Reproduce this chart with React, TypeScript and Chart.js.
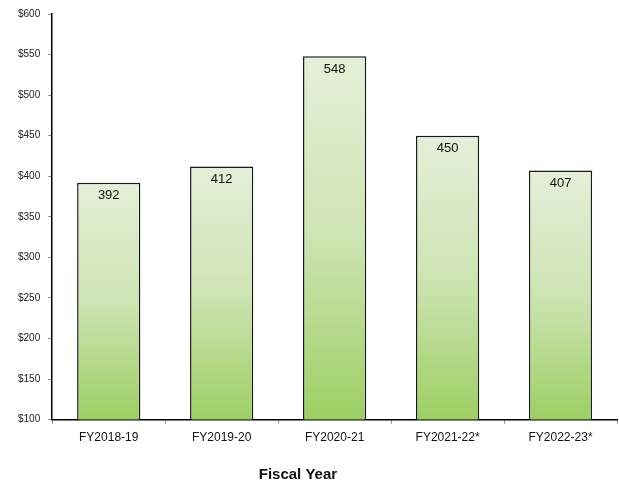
import React, { useEffect, useRef } from "react";
import { Chart, registerables } from "chart.js";

Chart.register(...registerables);

const categories = ["FY2018-19", "FY2019-20", "FY2020-21", "FY2021-22*", "FY2022-23*"];
const values = [392, 412, 548, 450, 407];
const yTicks = [100, 150, 200, 250, 300, 350, 400, 450, 500, 550, 600];
const xTitle = "Fiscal Year";

const FONT = "'Liberation Sans', Arial, sans-serif";

const valueLabelPlugin = {
  id: "valueLabels",
  afterDatasetsDraw(chart: any) {
    const { ctx } = chart;
    const meta = chart.getDatasetMeta(0);
    ctx.save();
    ctx.font = `13px ${FONT}`;
    ctx.fillStyle = "#111";
    ctx.textAlign = "center";
    ctx.textBaseline = "middle";
    meta.data.forEach((bar: any, i: number) => {
      ctx.fillText(String(values[i]), bar.x, bar.y + 13);
    });
    ctx.restore();
  },
};

const axisTitlePlugin = {
  id: "axisTitle",
  afterDraw(chart: any) {
    const { ctx, chartArea } = chart;
    ctx.save();
    ctx.font = `bold 15px ${FONT}`;
    ctx.fillStyle = "#111";
    ctx.textAlign = "center";
    ctx.textBaseline = "middle";
    const cx = chartArea.left + (chartArea.right - chartArea.left) * 0.435;
    ctx.fillText(xTitle, cx, chart.height - 10);
    ctx.restore();
  },
};

export default function App() {
  const ref = useRef<HTMLCanvasElement>(null);
  useEffect(() => {
    if (!ref.current) return;
    const chart = new Chart(ref.current, {
      type: "bar",
      data: {
        labels: categories,
        datasets: [
          {
            data: values,
            backgroundColor: (c: any) => {
              const ch = c.chart;
              const y = ch.scales?.y;
              if (!y || c.dataIndex === undefined) return "#c8e2a8";
              const top = y.getPixelForValue(values[c.dataIndex]);
              const bottom = y.getPixelForValue(100);
              if (!isFinite(top) || !isFinite(bottom) || top === bottom) return "#c8e2a8";
              const g = ch.ctx.createLinearGradient(0, top, 0, bottom);
              g.addColorStop(0, "#e5efd9");
              g.addColorStop(0.5, "#cde4b3");
              g.addColorStop(1, "#9dcf64");
              return g;
            },
            borderColor: "#1a1a1a",
            borderWidth: 1.5,
            borderSkipped: false,
            barPercentage: 0.56,
            categoryPercentage: 1,
          },
        ],
      },
      options: {
        animation: false,
        responsive: false,
        maintainAspectRatio: false,
        layout: { padding: { left: 10, right: 2, top: 10, bottom: 33 } },
        plugins: { legend: { display: false }, tooltip: { enabled: false } },
        scales: {
          x: {
            offset: true,
            grid: {
              display: true,
              offset: true,
              drawOnChartArea: false,
              drawTicks: true,
              tickLength: 4,
              color: "#888",
            },
            border: { display: true, color: "#000", width: 1.5 },
            ticks: {
              color: "#111",
              font: { family: FONT, size: 12 },
              padding: 7,
            },
          },
          y: {
            min: 100,
            max: 600,
            afterBuildTicks: (axis: any) => {
              axis.ticks = yTicks.map((v) => ({ value: v }));
            },
            grid: {
              display: true,
              drawOnChartArea: false,
              drawTicks: true,
              tickLength: 4,
              color: "#888",
            },
            border: { display: true, color: "#000", width: 1.5 },
            ticks: {
              color: "#222",
              font: { family: FONT, size: 10 },
              padding: 8,
              callback: (v: any) => "$" + v,
            },
          },
        },
      },
      plugins: [valueLabelPlugin, axisTitlePlugin],
    });
    return () => chart.destroy();
  }, []);
  return (
    <div style={{ position: "absolute", left: 0, top: 0, width: 619, height: 485, background: "#fff" }}>
      <canvas ref={ref} width={619} height={485} />
    </div>
  );
}
